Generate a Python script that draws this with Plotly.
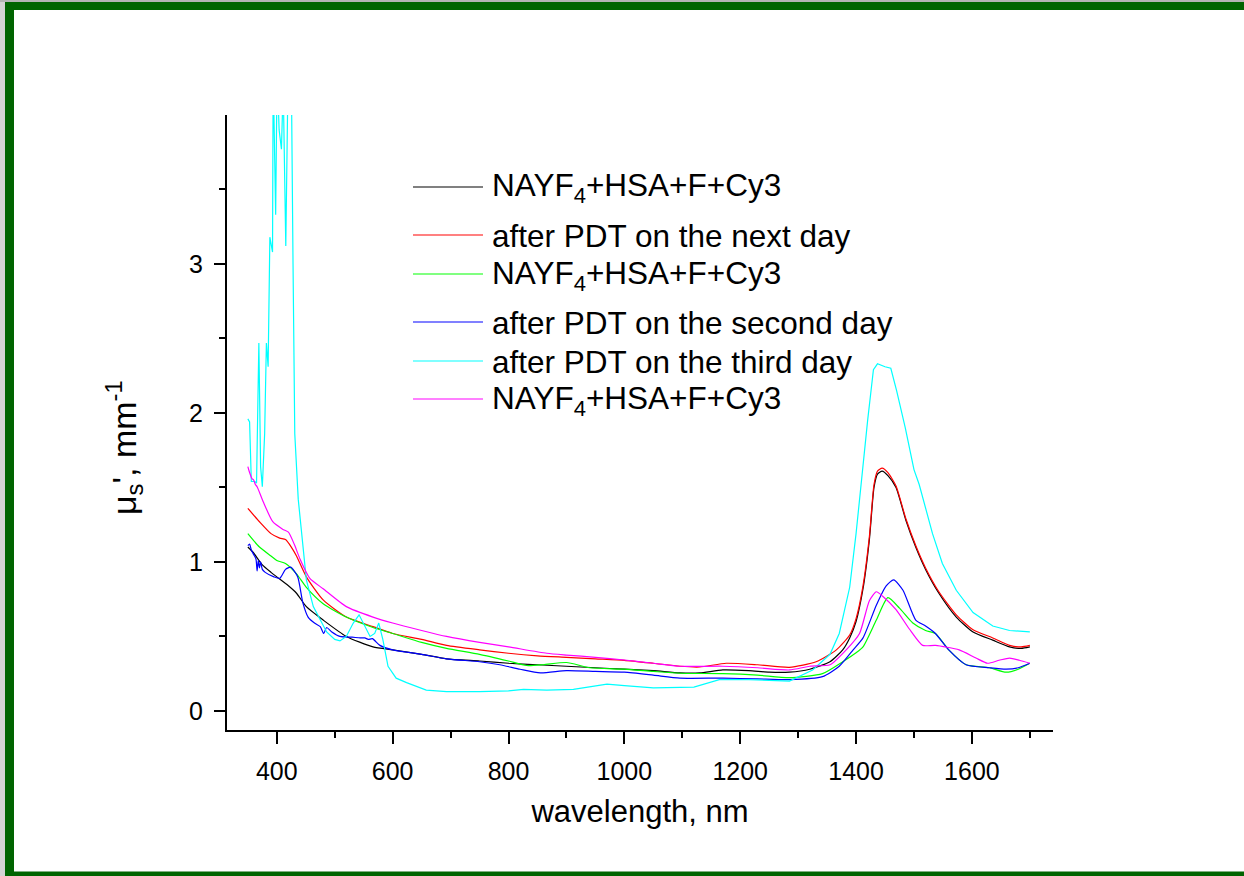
import plotly.graph_objects as go

# ---------------- data ----------------
labels = [
    "NAYF<sub>4</sub>+HSA+F+Cy3",
    "after PDT on the next day",
    "NAYF<sub>4</sub>+HSA+F+Cy3",
    "after PDT on the second day",
    "after PDT on the third day",
    "NAYF<sub>4</sub>+HSA+F+Cy3",
]
colors = ["#000000", "#ff0000", "#00ff00", "#0000ff", "#00ffff", "#ff00ff"]
legend_colors = ["#808080", "#ff8080", "#80ff80", "#8080ff", "#80ffff", "#ff80ff"]

wl_black = [350, 360, 375, 390, 400, 420, 434, 451, 480, 520, 566, 600, 650, 693, 750, 800, 850, 900,
            950, 1000, 1050, 1096, 1130, 1170, 1215, 1250, 1285, 1320, 1355, 1377, 1389, 1400, 1412,
            1423, 1431, 1437, 1445, 1455, 1469, 1486, 1503, 1520, 1543, 1573, 1602, 1636, 1665, 1685, 1700]
mu_black = [1.10, 1.06, 0.98, 0.93, 0.90, 0.84, 0.79, 0.70, 0.61, 0.50, 0.43, 0.41, 0.38, 0.35, 0.335,
            0.32, 0.31, 0.30, 0.29, 0.28, 0.27, 0.255, 0.255, 0.275, 0.27, 0.26, 0.26, 0.28, 0.33, 0.41,
            0.49, 0.60, 0.82, 1.15, 1.50, 1.59, 1.61, 1.58, 1.50, 1.28, 1.10, 0.95, 0.79, 0.63, 0.53,
            0.475, 0.43, 0.42, 0.43]

wl_red = [350, 370, 390, 405, 415, 425, 434, 451, 480, 520, 566, 600, 650, 693, 750, 800, 850, 900, 950,
          1000, 1050, 1096, 1130, 1176, 1230, 1285, 1331, 1366, 1389, 1400, 1412, 1423, 1431, 1437, 1445,
          1455, 1469, 1486, 1503, 1520, 1543, 1573, 1602, 1636, 1665, 1685, 1700]
mu_red = [1.36, 1.27, 1.19, 1.16, 1.15, 1.10, 1.04, 0.90, 0.745, 0.63, 0.566, 0.52, 0.48, 0.44, 0.41,
          0.387, 0.37, 0.36, 0.35, 0.34, 0.32, 0.30, 0.295, 0.32, 0.31, 0.293, 0.33, 0.41, 0.51, 0.62,
          0.84, 1.17, 1.52, 1.61, 1.63, 1.60, 1.51, 1.29, 1.11, 0.96, 0.80, 0.645, 0.545, 0.49, 0.44,
          0.43, 0.44]

wl_green = [350, 370, 390, 400, 415, 434, 451, 480, 520, 566, 600, 650, 693, 750, 800, 831, 860, 900, 940,
            1000, 1050, 1096, 1170, 1230, 1285, 1342, 1377, 1400, 1412, 1435, 1455, 1475, 1498, 1520,
            1537, 1560, 1590, 1630, 1659, 1680, 1700]
mu_green = [1.19, 1.10, 1.04, 1.01, 0.99, 0.92, 0.83, 0.72, 0.63, 0.56, 0.52, 0.46, 0.42, 0.38, 0.335,
            0.305, 0.31, 0.325, 0.29, 0.28, 0.265, 0.253, 0.25, 0.24, 0.223, 0.25, 0.33, 0.39, 0.43,
            0.61, 0.76, 0.69, 0.59, 0.54, 0.52, 0.41, 0.31, 0.29, 0.26, 0.28, 0.32]

wl_blue = [350, 353, 356, 360, 364, 366, 368, 370, 372, 375, 380, 395, 405, 415, 424, 436, 445, 454, 465,
           475, 481, 486, 495, 509, 530, 544, 552, 558, 565, 578, 600, 650, 693, 750, 785, 820, 855, 900,
           950, 1000, 1050, 1096, 1170, 1230, 1285, 1342, 1371, 1395, 1412, 1435, 1452, 1465, 1481, 1503,
           1520, 1537, 1560, 1590, 1630, 1659, 1680, 1700]
mu_blue = [1.11, 1.12, 1.08, 1.05, 1.02, 0.94, 1.01, 0.96, 1.00, 0.95, 0.93, 0.90, 0.89, 0.95, 0.965,
           0.90, 0.725, 0.63, 0.59, 0.566, 0.52, 0.56, 0.53, 0.50, 0.495, 0.49, 0.49, 0.48, 0.485, 0.44,
           0.41, 0.38, 0.35, 0.33, 0.31, 0.28, 0.255, 0.27, 0.265, 0.26, 0.24, 0.22, 0.22, 0.215, 0.21,
           0.23, 0.30, 0.41, 0.49, 0.71, 0.84, 0.88, 0.81, 0.61, 0.57, 0.52, 0.41, 0.31, 0.29, 0.28,
           0.29, 0.32]

wl_cyan = [350, 353, 356, 362, 365, 369, 372, 375, 379, 382, 385, 388, 392.6, 393.7, 398, 400.5, 404,
           408, 411, 415.5, 419.5, 425, 428, 431, 437, 445, 451, 463, 475, 486, 500, 509, 520, 532, 542,
           552, 561, 569, 576, 583, 592, 606, 624, 658, 693, 750, 800, 826, 866, 912, 970, 1000, 1050,
           1120, 1164, 1215, 1285, 1325, 1355, 1371, 1389, 1400, 1409, 1420, 1430, 1437, 1450, 1460,
           1470, 1485, 1500, 1509, 1532, 1549, 1573, 1602, 1636, 1665, 1700]
mu_cyan = [1.96, 1.94, 1.54, 1.54, 1.53, 2.47, 1.64, 1.505, 1.86, 2.47, 2.31, 3.18, 3.08, 4.30, 3.33,
           4.30, 3.90, 3.77, 4.20, 3.12, 4.30, 4.30, 3.00, 1.86, 1.42, 1.10, 0.88, 0.70, 0.61, 0.53, 0.48,
           0.47, 0.50, 0.59, 0.645, 0.565, 0.50, 0.52, 0.59, 0.48, 0.30, 0.22, 0.19, 0.14, 0.13, 0.13,
           0.135, 0.145, 0.14, 0.145, 0.18, 0.17, 0.155, 0.16, 0.21, 0.21, 0.20, 0.275, 0.38, 0.52, 0.83,
           1.19, 1.55, 1.95, 2.29, 2.33, 2.31, 2.30, 2.15, 1.90, 1.62, 1.52, 1.19, 0.99, 0.81, 0.66,
           0.57, 0.54, 0.53]

wl_mag = [350, 353, 357, 360, 363, 366, 377, 393, 410, 420, 430, 440, 457, 480, 520, 566, 600, 650, 693,
          750, 800, 866, 900, 950, 1000, 1050, 1096, 1170, 1230, 1285, 1320, 1355, 1383, 1406, 1423,
          1435, 1446, 1469, 1492, 1515, 1537, 1578, 1607, 1627, 1647, 1665, 1682, 1700]
mu_mag = [1.64, 1.60, 1.56, 1.55, 1.52, 1.505, 1.40, 1.27, 1.22, 1.20, 1.12, 1.02, 0.89, 0.82, 0.70,
          0.63, 0.59, 0.54, 0.50, 0.46, 0.43, 0.387, 0.375, 0.36, 0.342, 0.32, 0.30, 0.30, 0.29, 0.275,
          0.30, 0.31, 0.41, 0.52, 0.74, 0.80, 0.77, 0.68, 0.55, 0.44, 0.44, 0.41, 0.355, 0.32, 0.34,
          0.355, 0.34, 0.32]

series_x = [wl_black, wl_red, wl_green, wl_blue, wl_cyan, wl_mag]
series_y = [mu_black, mu_red, mu_green, mu_blue, mu_cyan, mu_mag]
line_shapes = ["spline", "spline", "spline", "spline", "linear", "spline"]

x_ticks = [400, 600, 800, 1000, 1200, 1400, 1600]
y_ticks = [0, 1, 2, 3]

# ---------------- layout geometry (pixels) ----------------
W, H = 1244, 876
L, R, T, B = 227, 1053, 115, 730
PW, PH = R - L, B - T
FONT = "Liberation Sans, Arial, sans-serif"


def px(xp):
    return (xp - L) / PW


def py(yp):
    return (B - yp) / PH


fig = go.Figure()
for xs, ys, c, name, ls in zip(series_x, series_y, colors, labels, line_shapes):
    fig.add_trace(go.Scatter(x=xs, y=ys, mode="lines", name=name,
                             line=dict(color=c, width=1.2, shape=ls, smoothing=0.6),
                             showlegend=False))

shapes = []
annotations = []

# manual legend (long line samples as in the original)
leg_rows = [187, 235, 274, 322, 361, 399]
for yy, lc, lab in zip(leg_rows, legend_colors, labels):
    shapes.append(dict(type="line", xref="paper", yref="paper",
                       x0=px(413), x1=px(483), y0=py(yy), y1=py(yy),
                       line=dict(color=lc, width=2)))
    annotations.append(dict(xref="paper", yref="paper", x=px(490), y=py(yy + 1),
                            xanchor="left", yanchor="middle", showarrow=False,
                            text=lab, font=dict(family=FONT, size=31.5, color="black")))

# y-axis title
annotations.append(dict(xref="paper", yref="paper", x=px(124), y=py(448),
                        xanchor="center", yanchor="middle", showarrow=False, textangle=-90,
                        text="\u03bc<sub>s</sub>', mm<sup>-1</sup>",
                        font=dict(family=FONT, size=34, color="black")))

# window frame
shapes += [
    dict(type="rect", xref="paper", yref="paper", x0=px(0), x1=px(5), y0=py(H), y1=py(0),
         fillcolor="#d4d4d4", line=dict(width=0), layer="below"),
    dict(type="rect", xref="paper", yref="paper", x0=px(0), x1=px(W), y0=py(2), y1=py(0),
         fillcolor="#b4b4b4", line=dict(width=0), layer="below"),
    dict(type="rect", xref="paper", yref="paper", x0=px(5), x1=px(14), y0=py(H), y1=py(2),
         fillcolor="#006400", line=dict(width=0), layer="below"),
    dict(type="rect", xref="paper", yref="paper", x0=px(5), x1=px(W), y0=py(10), y1=py(2),
         fillcolor="#006400", line=dict(width=0), layer="below"),
    dict(type="rect", xref="paper", yref="paper", x0=px(5), x1=px(W), y0=py(H), y1=py(871.5),
         fillcolor="#006400", line=dict(width=0), layer="below"),
]

fig.update_layout(
    width=W, height=H,
    margin=dict(l=L, r=W - R, t=T, b=H - B),
    paper_bgcolor="white", plot_bgcolor="white",
    font=dict(family=FONT, color="black"),
    shapes=shapes, annotations=annotations,
    showlegend=False,
)
fig.update_xaxes(
    range=[314, 1740], showgrid=False, zeroline=False,
    showline=True, linecolor="black", linewidth=2,
    ticks="outside", ticklen=12, tickwidth=2, tickcolor="black",
    tickvals=x_ticks, ticktext=[str(v) for v in x_ticks],
    tickfont=dict(family=FONT, size=25), ticklabelstandoff=6,
    minor=dict(ticks="outside", ticklen=6, tickwidth=2, tickcolor="black",
               tickvals=[500, 700, 900, 1100, 1300, 1500, 1700], showgrid=False),
    title=dict(text="wavelength, nm", font=dict(family=FONT, size=31), standoff=16),
)
fig.update_yaxes(
    range=[-0.128, 4.0], showgrid=False, zeroline=False,
    showline=True, linecolor="black", linewidth=2,
    ticks="outside", ticklen=11, tickwidth=2, tickcolor="black",
    tickvals=y_ticks, ticktext=[str(v) for v in y_ticks],
    tickfont=dict(family=FONT, size=25), ticklabelstandoff=6,
    minor=dict(ticks="outside", ticklen=6, tickwidth=2, tickcolor="black",
               tickvals=[0.5, 1.5, 2.5, 3.5], showgrid=False),
)

fig.write_html("out.html")
